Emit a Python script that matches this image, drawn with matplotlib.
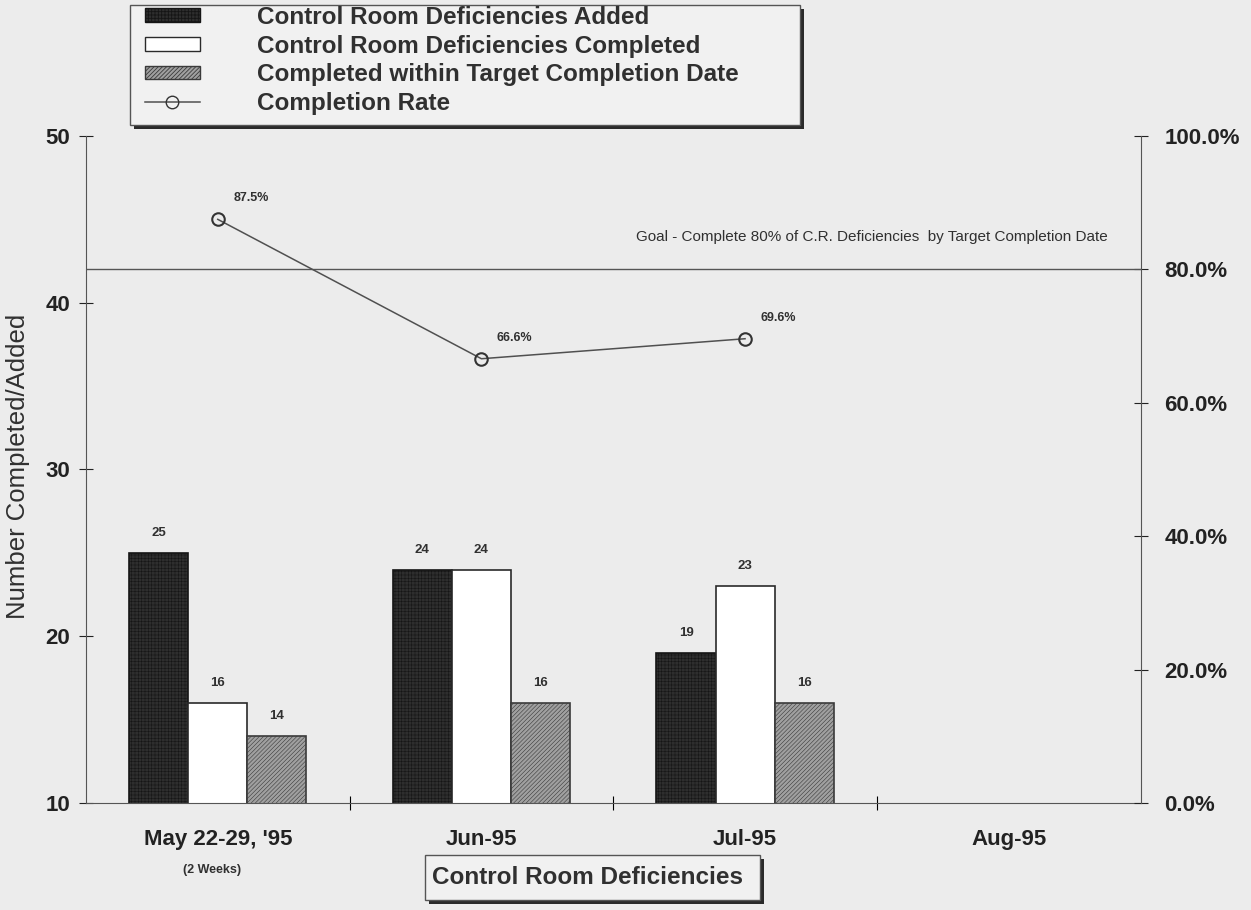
import numpy as np
import matplotlib
matplotlib.use('Agg')
import matplotlib.pyplot as plt
from matplotlib.patches import Patch, Rectangle
from matplotlib.lines import Line2D

plt.rcParams['font.family'] = ['Liberation Sans', 'DejaVu Sans']
plt.rcParams['hatch.linewidth'] = 0.6

months = ["May 22-29, '95", 'Jun-95', 'Jul-95', 'Aug-95']
added = [25, 24, 19]
completed = [16, 24, 23]
on_target = [14, 16, 16]
rate = [87.5, 66.6, 69.6]
rate_labels = ['87.5%', '66.6%', '69.6%']
goal = 80.0

W, H = 1251, 910
bg = '#ececec'
ink = '#303030'
fig = plt.figure(figsize=(W / 100, H / 100), dpi=100, facecolor=bg)
ax = fig.add_axes([0.0687, 0.1176, 0.843, 0.733], facecolor=bg)
ax2 = ax.twinx()


def px_box(x0, y0, x1, y1, shadow=4):
    # framed box with a drop shadow, given in pixels from the top left
    fig.patches.append(Rectangle((x0 + shadow, H - y1 - shadow), x1 - x0, y1 - y0,
                                 transform=None, facecolor='#2a2a2a', edgecolor='none', zorder=0))
    fig.patches.append(Rectangle((x0, H - y1), x1 - x0, y1 - y0, transform=None,
                                 facecolor='#f1f1f1', edgecolor='#555555', linewidth=1.0, zorder=1))


x = np.arange(len(months))
w = 0.224
n = len(added)

b1 = ax.bar(x[:n] - w, added, w, color='#2e2e2e', edgecolor='#151515',
            hatch='+++++', linewidth=1.2)
for p in b1:
    p.set_hatch_linewidth(0.4)
b2 = ax.bar(x[:n], completed, w, color='white', edgecolor='#2a2a2a', linewidth=1.2)
b3 = ax.bar(x[:n] + w, on_target, w, color='#a0a0a0', edgecolor='#3a3a3a',
            hatch='////////', linewidth=1.2)
for p in b3:
    p.set_hatch_linewidth(0.4)

for bars, vals in ((b1, added), (b2, completed), (b3, on_target)):
    for p, v in zip(bars, vals):
        ax.annotate(str(v), (p.get_x() + p.get_width() / 2, v), xytext=(0, 10),
                    textcoords='offset points', ha='center', va='bottom',
                    fontsize=9.5, fontweight='bold', color=ink)

ax.set_ylim(10, 50)
ax.set_xlim(-0.5, len(months) - 0.5)
ax.set_yticks([10, 20, 30, 40, 50])
ax.tick_params(axis='y', direction='inout', length=10, width=0.8, labelsize=16,
               pad=6.5, colors='#222222')
for t in ax.get_yticklabels():
    t.set_fontweight('bold')
ax.set_ylabel('Number Completed/Added', fontsize=18.5, color=ink)
ax.yaxis.set_label_coords(-0.053, 0.505)

# category labels, with tick marks on the boundaries between months
ax.set_xticks(x)
ax.set_xticklabels(months, fontsize=16, fontweight='bold', color='#222222')
ax.tick_params(axis='x', length=0, pad=19)
ax.set_xticks(np.arange(len(months) - 1) + 0.5, minor=True)
ax.tick_params(axis='x', which='minor', direction='inout', length=10, width=0.8)
ax.text(x[0] - 0.02, -0.1, '(2 Weeks)', transform=ax.get_xaxis_transform(),
        ha='center', va='center', fontsize=9, fontweight='bold', color=ink)

for s in ('top', 'right'):
    ax.spines[s].set_visible(False)
for s in ('left', 'bottom'):
    ax.spines[s].set_linewidth(0.8)
    ax.spines[s].set_color('#555555')

ax2.set_ylim(0, 100)
ax2.set_yticks([0, 20, 40, 60, 80, 100])
ax2.set_yticklabels([f'{v:.1f}%' for v in [0, 20, 40, 60, 80, 100]])
ax2.tick_params(axis='y', direction='inout', length=10, width=0.8, labelsize=16,
                pad=12, colors='#222222')
for t in ax2.get_yticklabels():
    t.set_fontweight('bold')
for s in ('top', 'left', 'bottom'):
    ax2.spines[s].set_visible(False)
ax2.spines['right'].set_linewidth(0.8)
ax2.spines['right'].set_color('#555555')

ax2.axhline(goal, color='#555555', linewidth=1.0)
ax2.text(3.375, 84.8,
         'Goal - Complete 80% of C.R. Deficiencies  by Target Completion Date',
         ha='right', va='center', fontsize=11, color=ink)

ax2.plot(x[:n], rate, color='#505050', linewidth=1.1, marker='o', markersize=9,
         markerfacecolor='none', markeredgecolor='#333333', markeredgewidth=1.5)
for xi, r, lab in zip(x[:n], rate, rate_labels):
    ax2.annotate(lab, (xi, r), xytext=(24, 15), textcoords='offset points',
                 ha='center', va='center', fontsize=9, fontweight='bold', color=ink)

# legend block at the top
px_box(130, 5, 800, 125)
handles = [
    Patch(facecolor='#2e2e2e', edgecolor='#151515', hatch='+++++'),
    Patch(facecolor='white', edgecolor='#2a2a2a'),
    Patch(facecolor='#a0a0a0', edgecolor='#3a3a3a', hatch='////////'),
    Line2D([], [], color='#505050', marker='o', markerfacecolor='none',
           markeredgecolor='#333333', markersize=9, linewidth=1.1),
]
labels = ['Control Room Deficiencies Added',
          'Control Room Deficiencies Completed',
          'Completed within Target Completion Date',
          'Completion Rate']
leg = fig.legend(handles, labels, loc='upper left', bbox_to_anchor=(145 / W, 1 - 6 / H),
                 prop={'weight': 'bold', 'size': 17.5}, frameon=False,
                 borderpad=0, labelspacing=0.23, handlelength=2.25, handleheight=0.5,
                 handletextpad=2.35, borderaxespad=0)
leg.set_zorder(5)
for t in leg.get_texts():
    t.set_color(ink)

# axis title box under the months
px_box(425, 855, 760, 900)
fig.text(588 / W, 1 - 877 / H, 'Control Room Deficiencies', ha='center', va='center',
         fontsize=17.5, fontweight='bold', color=ink, zorder=5)

fig.savefig('out.png', dpi=100, facecolor=bg)
